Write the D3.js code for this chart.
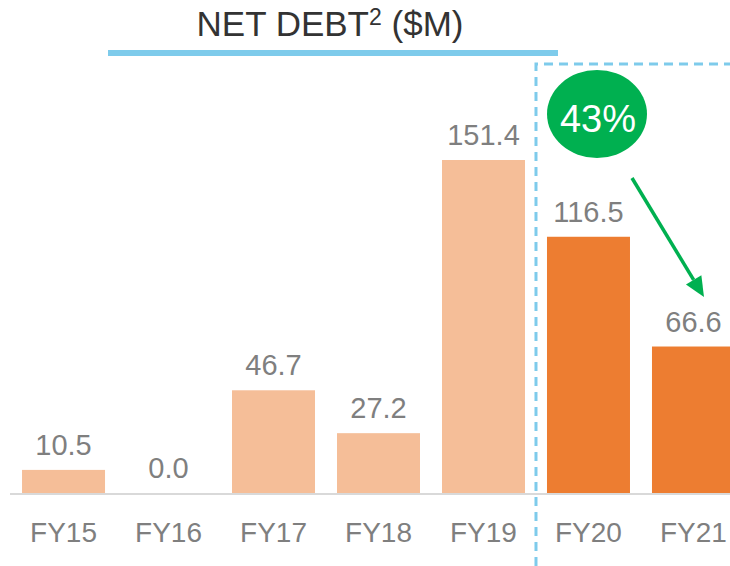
<!DOCTYPE html>
<html>
<head>
<meta charset="utf-8">
<script src="https://cdn.jsdelivr.net/npm/d3@7"></script>
<style>
  html, body { margin: 0; padding: 0; background: #fff; }
  svg { display: block; font-family: "Liberation Sans", Arial, sans-serif; }
</style>
</head>
<body>
<div id="container"></div>
<script>
let w = 730;
let h = 566;

// data
let years = ["FY15", "FY16", "FY17", "FY18", "FY19", "FY20", "FY21"];
let netDebt = [10.5, 0.0, 46.7, 27.2, 151.4, 116.5, 66.6];
let highlightYears = ["FY20", "FY21"];
let changeLabel = "43%";

let viz = d3.select("#container").append("svg")
    .attr("width", w)
    .attr("height", h);

let baseY = 493;
let x = d3.scaleBand().domain(years).range([11, 746]).paddingInner(22 / 105).paddingOuter(0.105);
let y = d3.scaleLinear().domain([0, 151.4]).range([baseY, 160]);

// title
let title = viz.append("text")
    .attr("x", 330)
    .attr("y", 36)
    .attr("text-anchor", "middle")
    .attr("font-size", 35)
    .attr("fill", "#333333");
title.append("tspan").text("NET DEBT");
title.append("tspan").attr("font-size", 23).attr("dy", -11).text("2");
title.append("tspan").attr("dy", 11).text(" ($M)");

viz.append("rect")
    .attr("x", 108).attr("y", 50)
    .attr("width", 450).attr("height", 6)
    .attr("fill", "#7ECBEB");

// bars
viz.selectAll(".bar").data(years).enter()
  .append("rect")
    .attr("class", "bar")
    .attr("x", d => x(d))
    .attr("width", x.bandwidth())
    .attr("y", (d, i) => y(netDebt[i]))
    .attr("height", (d, i) => baseY - y(netDebt[i]))
    .attr("fill", d => highlightYears.includes(d) ? "#ED7D31" : "#F5BE98");

// baseline
viz.append("line")
    .attr("x1", 10).attr("x2", 730)
    .attr("y1", baseY + 1).attr("y2", baseY + 1)
    .attr("stroke", "#D9D9D9")
    .attr("stroke-width", 2);

// value labels
viz.selectAll(".val").data(years).enter()
  .append("text")
    .attr("class", "val")
    .attr("x", d => x(d) + x.bandwidth() / 2)
    .attr("y", (d, i) => y(netDebt[i]) - 15)
    .attr("text-anchor", "middle")
    .attr("font-size", 29)
    .attr("fill", "#7F7F7F")
    .text((d, i) => netDebt[i].toFixed(1));

// category labels
viz.selectAll(".cat").data(years).enter()
  .append("text")
    .attr("class", "cat")
    .attr("x", d => x(d) + x.bandwidth() / 2)
    .attr("y", 542)
    .attr("text-anchor", "middle")
    .attr("font-size", 28)
    .attr("fill", "#7F7F7F")
    .text(d => d);

// dashed highlight box
let boxX = (x("FY19") + x.bandwidth() + x("FY20")) / 2;
viz.append("path")
    .attr("d", `M${boxX},${h} V64 H${w}`)
    .attr("fill", "none")
    .attr("stroke", "#7ECBEB")
    .attr("stroke-width", 3)
    .attr("stroke-dasharray", "9,6");

// change badge
viz.append("ellipse")
    .attr("cx", 597).attr("cy", 114)
    .attr("rx", 50).attr("ry", 44)
    .attr("fill", "#00B050");
viz.append("text")
    .attr("x", 598).attr("y", 132)
    .attr("text-anchor", "middle")
    .attr("font-size", 38)
    .attr("fill", "#ffffff")
    .text(changeLabel);

// arrow
let x0 = 632, y0 = 178, x1 = 704, y1 = 297;
let ang = Math.atan2(y1 - y0, x1 - x0);
let headLen = 20, headW = 9;
let bx = x1 - headLen * Math.cos(ang), by = y1 - headLen * Math.sin(ang);
viz.append("line")
    .attr("x1", x0).attr("y1", y0)
    .attr("x2", bx).attr("y2", by)
    .attr("stroke", "#00B050")
    .attr("stroke-width", 3.5);
viz.append("path")
    .attr("d", `M${x1},${y1} L${bx + headW * Math.sin(ang)},${by - headW * Math.cos(ang)} L${bx - headW * Math.sin(ang)},${by + headW * Math.cos(ang)} Z`)
    .attr("fill", "#00B050");
</script>
</body>
</html>
